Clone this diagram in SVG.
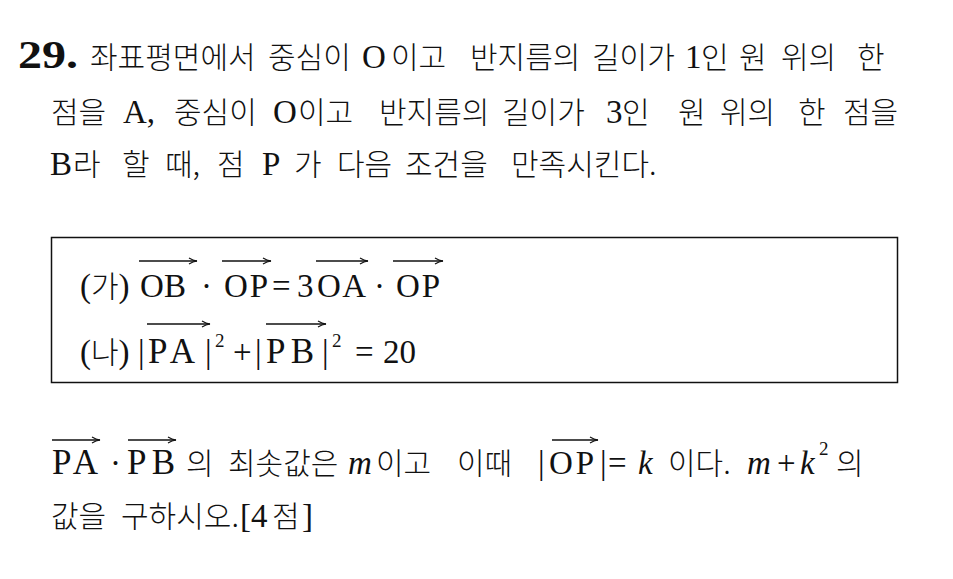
<svg xmlns="http://www.w3.org/2000/svg" width="953" height="579" viewBox="0 0 953 579">
<defs>
<style>
.k{font-family:"Noto Sans CJK KR",sans-serif;font-size:30px;font-weight:300;fill:#111}
.m{font-family:"Liberation Serif",serif;font-size:33px;fill:#111}
.w{font-size:35px}
.p{font-family:"Liberation Serif",serif;font-size:33px}
.i{font-style:italic}
.s{font-size:19px}
.b{font-family:"Liberation Serif",serif;font-weight:bold;font-size:41px;fill:#111}
.v{stroke:#111;stroke-width:1.4;fill:none}
</style>
<marker id="ah" markerWidth="10" markerHeight="8" refX="9" refY="4" orient="auto" markerUnits="userSpaceOnUse">
<path d="M1,1 Q5,3.4 9,4 Q5,4.6 1,7" fill="none" stroke="#111" stroke-width="1.2"/>
</marker>
</defs>
<rect width="953" height="579" fill="#fff"/>
<g id="text-lines">
<text class="b" x="18" y="68" textLength="60" lengthAdjust="spacingAndGlyphs">29.</text>
<text class="k" x="90" y="68">좌표평면에서</text>
<text class="k" x="268" y="68">중심이</text>
<text class="m" x="362" y="68">O</text>
<text class="k" x="391" y="68">이고</text>
<text class="k" x="470" y="68">반지름의</text>
<text class="k" x="592" y="68">길이가</text>
<text class="m" x="685" y="68">1</text>
<text class="k" x="701" y="68">인</text>
<text class="k" x="739" y="68">원</text>
<text class="k" x="781" y="68">위의</text>
<text class="k" x="857" y="68">한</text>

<text class="k" x="51" y="123">점을</text>
<text class="m" x="123" y="123">A,</text>
<text class="k" x="174" y="123">중심이</text>
<text class="m" x="273" y="123">O</text>
<text class="k" x="298" y="123">이고</text>
<text class="k" x="379" y="123">반지름의</text>
<text class="k" x="502" y="123">길이가</text>
<text class="m" x="606" y="123">3</text>
<text class="k" x="622" y="123">인</text>
<text class="k" x="678" y="123">원</text>
<text class="k" x="720" y="123">위의</text>
<text class="k" x="798" y="123">한</text>
<text class="k" x="843" y="123">점을</text>

<text class="m" x="50" y="175">B</text>
<text class="k" x="73" y="175">라</text>
<text class="k" x="122" y="175">할</text>
<text class="k" x="165" y="175">때,</text>
<text class="k" x="217" y="175">점</text>
<text class="m" x="262" y="175">P</text>
<text class="k" x="294" y="175">가</text>
<text class="k" x="337" y="175">다음</text>
<text class="k" x="405" y="175">조건을</text>
<text class="k" x="511" y="175">만족시킨다.</text>
</g>
<g id="condition-box">
<rect x="51.5" y="237.5" width="846" height="145" fill="none" stroke="#111" stroke-width="1.5"/>
<text class="k" x="80" y="297"><tspan class="p">(</tspan>가<tspan class="p">)</tspan></text>
<text class="m" x="140" y="297" textLength="46" lengthAdjust="spacing">OB</text>
<text class="m" x="201" y="297">·</text>
<text class="m" x="224" y="297" textLength="44" lengthAdjust="spacing">OP</text>
<text class="m" x="272" y="297">=</text>
<text class="m" x="297" y="297">3</text>
<text class="m" x="317" y="297" textLength="49" lengthAdjust="spacing">OA</text>
<text class="m" x="374" y="297">·</text>
<text class="m" x="396" y="297" textLength="44" lengthAdjust="spacing">OP</text>
<text class="k" x="80" y="363"><tspan class="p">(</tspan>나<tspan class="p">)</tspan></text>
<text class="m" x="138" y="363">|</text>
<text class="m w" x="148" y="363" textLength="47" lengthAdjust="spacing">PA</text>
<text class="m" x="205" y="363">|</text>
<text class="m s" x="215" y="347">2</text>
<text class="m" x="233" y="363">+</text>
<text class="m" x="255" y="363">|</text>
<text class="m w" x="266" y="363" textLength="48" lengthAdjust="spacing">PB</text>
<text class="m" x="322" y="363">|</text>
<text class="m s" x="332" y="347">2</text>
<text class="m" x="355" y="363">=</text>
<text class="m" x="383" y="363">20</text>
</g>
<g id="question-lines">
<text class="m w" x="52" y="474" textLength="46" lengthAdjust="spacing">PA</text>
<text class="m" x="110" y="474">·</text>
<text class="m w" x="127" y="474" textLength="48" lengthAdjust="spacing">PB</text>
<text class="k" x="186" y="474">의</text>
<text class="k" x="228" y="474">최솟값은</text>
<text class="m i" x="348" y="474">m</text>
<text class="k" x="376" y="474">이고</text>
<text class="k" x="457" y="474">이때</text>
<text class="m" x="538" y="474">|</text>
<text class="m" x="549" y="474" textLength="45" lengthAdjust="spacing">OP</text>
<text class="m" x="600" y="474">|</text>
<text class="m" x="608" y="474">=</text>
<text class="m i" x="638" y="474">k</text>
<text class="k" x="668" y="474">이다.</text>
<text class="m i" x="747" y="474">m</text>
<text class="m" x="777" y="474">+</text>
<text class="m i" x="800" y="474">k</text>
<text class="m s" x="819" y="455">2</text>
<text class="k" x="836" y="474">의</text>
<text class="k" x="51" y="527">값을</text>
<text class="k" x="121" y="527">구하시오.</text>
<text class="m" x="240" y="527">[4</text>
<text class="k" x="272" y="527">점</text>
<text class="m" x="302" y="527">]</text>
</g>
<g id="vector-arrows">
<line class="v" x1="139" y1="261" x2="197" y2="261" marker-end="url(#ah)"/>
<line class="v" x1="222" y1="261" x2="271" y2="261" marker-end="url(#ah)"/>
<line class="v" x1="316" y1="261" x2="368" y2="261" marker-end="url(#ah)"/>
<line class="v" x1="393" y1="261" x2="443" y2="261" marker-end="url(#ah)"/>
<line class="v" x1="147" y1="324" x2="210" y2="324" marker-end="url(#ah)"/>
<line class="v" x1="266" y1="324" x2="326" y2="324" marker-end="url(#ah)"/>
<line class="v" x1="52" y1="440" x2="100" y2="440" marker-end="url(#ah)"/>
<line class="v" x1="128" y1="440" x2="176" y2="440" marker-end="url(#ah)"/>
<line class="v" x1="552" y1="440" x2="598" y2="440" marker-end="url(#ah)"/>
</g>
</svg>
